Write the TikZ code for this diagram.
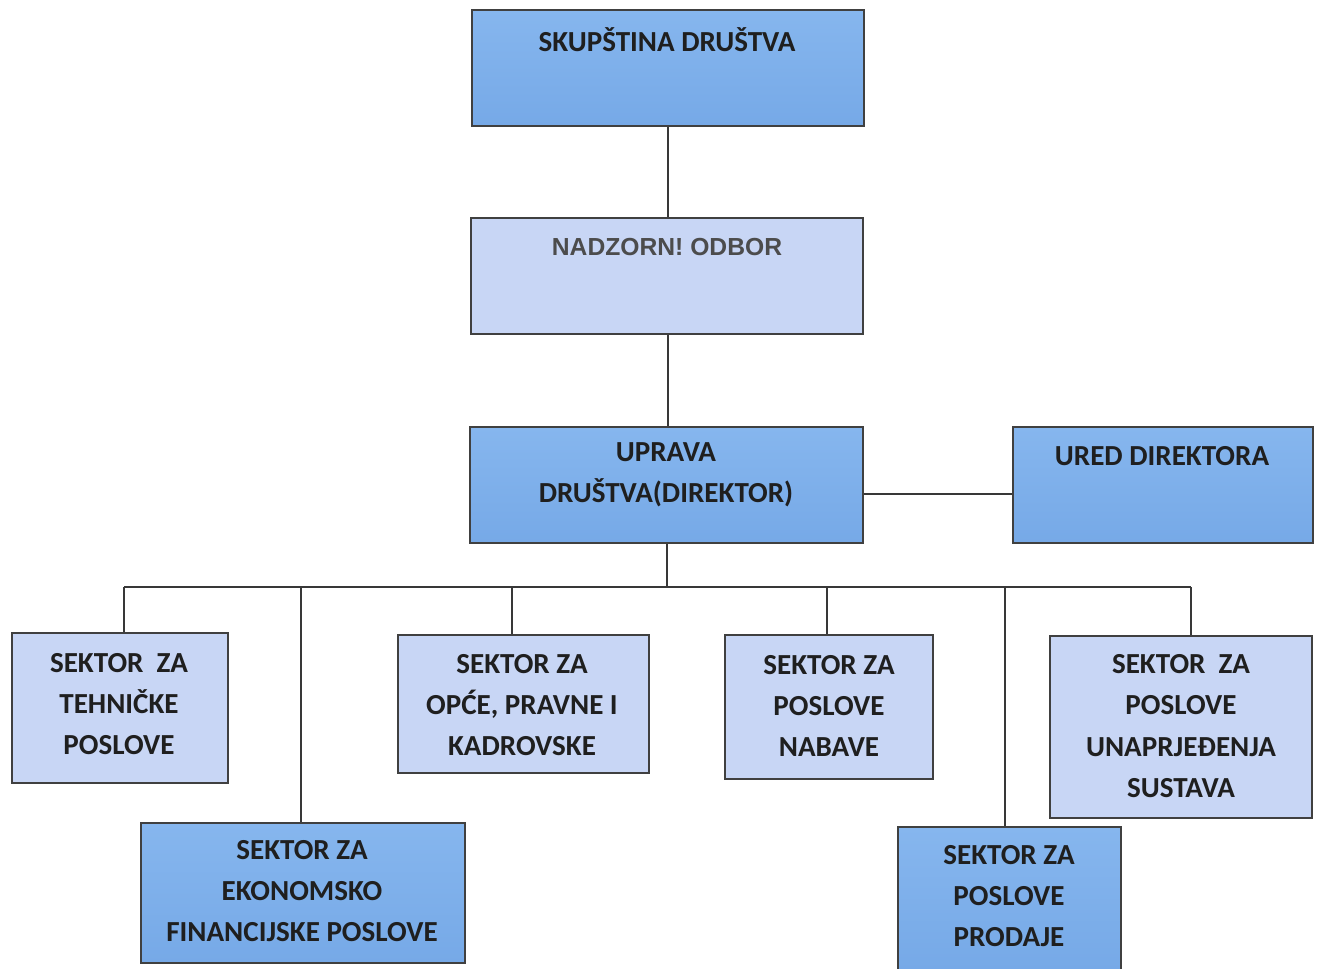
\documentclass[tikz,border=0pt]{standalone}
\usepackage{fontspec}
\setmainfont{Carlito}
\newfontfamily\arialfont{Liberation Sans}
\begin{document}
\begin{tikzpicture}[x=0.75pt,y=-0.75pt,
  boxbase/.style={draw=black!75, line width=1.6pt, inner sep=0pt, anchor=north west},
  darkbox/.style={boxbase, shading=axis, top color=darkTop, bottom color=darkBot},
  lightbox/.style={boxbase, fill=lightFill},
  txt/.style={font=\bfseries\fontsize{21.8}{31}\selectfont, text=black!88, align=center, inner sep=0pt},
  conn/.style={draw=black!78, line width=1.5pt}]
\definecolor{darkTop}{HTML}{86B6EE}
\definecolor{darkBot}{HTML}{76A9E7}
\definecolor{lightFill}{HTML}{C8D6F5}
\useasboundingbox (0,0) rectangle (1317,969);
% boxes
\node[darkbox, minimum width=392*0.75pt, minimum height=116*0.75pt] (skup) at (471,9) {};
\node[lightbox, minimum width=392*0.75pt, minimum height=116*0.75pt] (nad) at (470,217) {};
\node[darkbox, minimum width=393*0.75pt, minimum height=116*0.75pt] (upr) at (469,426) {};
\node[darkbox, minimum width=300*0.75pt, minimum height=116*0.75pt] (ured) at (1012,426) {};
\node[lightbox, minimum width=216*0.75pt, minimum height=150*0.75pt] (teh) at (11,632) {};
\node[darkbox, minimum width=324*0.75pt, minimum height=140*0.75pt] (eko) at (140,822) {};
\node[lightbox, minimum width=251*0.75pt, minimum height=138*0.75pt] (opce) at (397,634) {};
\node[lightbox, minimum width=208*0.75pt, minimum height=144*0.75pt] (nab) at (724,634) {};
\node[darkbox, minimum width=223*0.75pt, minimum height=143*0.75pt] (prod) at (897,826) {};
\node[lightbox, minimum width=262*0.75pt, minimum height=182*0.75pt] (unap) at (1049,635) {};
% texts
\node[txt] (tskup) at (667,40) {SKUPŠTINA DRUŠTVA};
\node[txt, font=\arialfont\bfseries\fontsize{18.5}{31}\selectfont, text=black!70] (tnad) at (667,247) {NADZORN! ODBOR};
\node[txt] (tupr) at (666,475) {UPRAVA\\DRUŠTVA(DIREKTOR)};
\node[txt] (tured) at (1162,456) {URED DIREKTORA};
\node[txt] (tteh) at (119,704) {SEKTOR\ \ ZA\\TEHNIČKE\\POSLOVE};
\node[txt] (teko) at (302,891) {SEKTOR ZA\\EKONOMSKO\\FINANCIJSKE POSLOVE};
\node[txt] (topce) at (522,705) {SEKTOR ZA\\OPĆE, PRAVNE I\\KADROVSKE};
\node[txt] (tnab) at (829,706) {SEKTOR ZA\\POSLOVE\\NABAVE};
\node[txt] (tprod) at (1009,896) {SEKTOR ZA\\POSLOVE\\PRODAJE};
\node[txt] (tunap) at (1181,726) {SEKTOR\ \ ZA\\POSLOVE\\UNAPRJEĐENJA\\SUSTAVA};
% connectors
\coordinate (bus) at (667,587);
\draw[conn] (skup.south -| 668,0) -- (nad.north -| 668,0);
\draw[conn] (nad.south -| 668,0) -- (upr.north -| 668,0);
\draw[conn] (upr.east |- 0,494) -- (ured.west |- 0,494);
\draw[conn] (upr.south -| bus) -- (bus);
\draw[conn] (124,587) -- (1191,587);
\draw[conn] (124,587) -- (teh.north -| 124,0);
\draw[conn] (301,587) -- (eko.north -| 301,0);
\draw[conn] (512,587) -- (opce.north -| 512,0);
\draw[conn] (827,587) -- (nab.north -| 827,0);
\draw[conn] (1005,587) -- (prod.north -| 1005,0);
\draw[conn] (1191,587) -- (unap.north -| 1191,0);
\end{tikzpicture}
\end{document}
